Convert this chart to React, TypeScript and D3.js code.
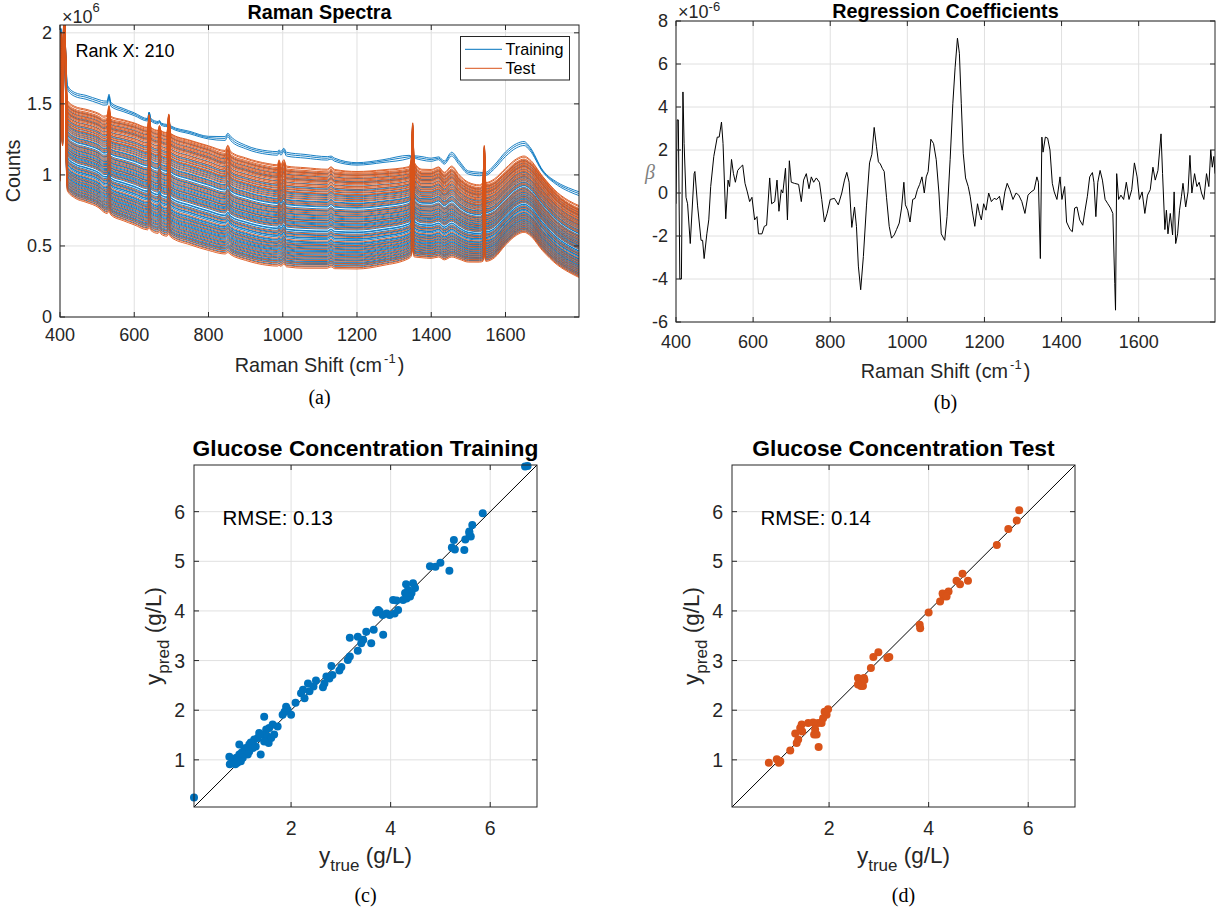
import { useEffect, useRef } from "react";
import * as d3 from "d3";

const BLUE = "#0072BD";
const ORANGE = "#D95319";
const INK = "#262626";
const GRID = "#e0e0e0";
const SANS = '"Liberation Sans", Arial, Helvetica, sans-serif';
const SERIF = '"Liberation Serif", "Times New Roman", serif';

// (a) Raman spectra, counts in units of 1e6, on a shared wavenumber grid
const spectrumShift = [400, 402, 404, 407, 410, 413, 416, 420, 440, 470, 505, 518, 527, 532, 537, 570, 600, 636, 640, 645, 664, 668, 672, 688, 693, 698, 750, 800, 845, 852, 860, 900, 960, 986, 990, 995, 1003, 1010, 1060, 1120, 1130, 1140, 1200, 1270, 1340, 1346, 1350, 1354, 1375, 1400, 1420, 1435, 1455, 1475, 1500, 1530, 1539, 1543, 1547, 1570, 1600, 1630, 1650, 1665, 1700, 1740, 1770, 1800];
// lowest spectrum of the band
const lowCounts = [0.95, 1.5, 1.35, 1.2, 1.85, 2.05, 1.2, 0.88, 0.83, 0.8, 0.76, 0.73, 0.72, 0.735, 0.71, 0.67, 0.64, 0.605, 0.62, 0.6, 0.58, 0.59, 0.575, 0.56, 0.575, 0.555, 0.5, 0.46, 0.435, 0.445, 0.43, 0.39, 0.355, 0.35, 0.355, 0.348, 0.365, 0.345, 0.335, 0.335, 0.345, 0.332, 0.33, 0.355, 0.405, 0.42, 0.46, 0.415, 0.41, 0.405, 0.415, 0.395, 0.415, 0.4, 0.38, 0.38, 0.385, 0.42, 0.385, 0.41, 0.5, 0.57, 0.59, 0.57, 0.46, 0.36, 0.31, 0.27];
// upper edge of the dense band
const highCounts = [1.25, 2.0, 1.8, 1.55, 2.1, 2.1, 1.75, 1.5, 1.46, 1.44, 1.41, 1.39, 1.4, 1.47, 1.39, 1.37, 1.35, 1.32, 1.42, 1.32, 1.3, 1.34, 1.3, 1.285, 1.43, 1.28, 1.23, 1.19, 1.15, 1.19, 1.14, 1.1, 1.06, 1.05, 1.09, 1.05, 1.09, 1.04, 1.03, 1.02, 1.04, 1.02, 1.01, 1.02, 1.04, 1.1, 1.37, 1.08, 1.02, 1.02, 1.04, 1.0, 1.04, 0.98, 0.93, 0.91, 0.93, 1.21, 0.93, 0.95, 1.02, 1.09, 1.11, 1.09, 0.98, 0.86, 0.8, 0.76];
// the few isolated training spectra on top
const topCounts = [1.4, 2.03, 1.95, 1.75, 2.0, 2.02, 1.8, 1.62, 1.57, 1.55, 1.52, 1.51, 1.51, 1.56, 1.5, 1.46, 1.43, 1.39, 1.44, 1.39, 1.37, 1.38, 1.36, 1.35, 1.37, 1.34, 1.3, 1.265, 1.26, 1.285, 1.26, 1.2, 1.16, 1.155, 1.17, 1.155, 1.18, 1.15, 1.135, 1.12, 1.125, 1.11, 1.08, 1.1, 1.13, 1.13, 1.14, 1.13, 1.12, 1.11, 1.12, 1.09, 1.15, 1.09, 1.02, 1.01, 1.01, 1.03, 1.01, 1.06, 1.15, 1.21, 1.225, 1.19, 1.03, 0.94, 0.9, 0.87];
// level of every spectrum at 1200 cm-1
const trainingLevels = [1.086, 1.078, 1.069, 0.998, 0.975, 0.952, 0.944, 0.921, 0.897, 0.889, 0.871, 0.853, 0.846, 0.832, 0.818, 0.802, 0.797, 0.784, 0.771, 0.766, 0.752, 0.74, 0.736, 0.722, 0.709, 0.704, 0.69, 0.683, 0.671, 0.667, 0.655, 0.648, 0.641, 0.629, 0.624, 0.612, 0.598, 0.594, 0.583, 0.571, 0.566, 0.551, 0.547, 0.538, 0.521, 0.516, 0.508, 0.497, 0.492, 0.479, 0.473, 0.462, 0.455, 0.449, 0.438, 0.431, 0.42, 0.414, 0.402, 0.396, 0.385, 0.379, 0.371, 0.364, 0.352];
const testLevels = [1.024, 1.019, 1.011, 1.004, 0.996, 0.99, 0.982, 0.971, 0.964, 0.957, 0.946, 0.938, 0.93, 0.917, 0.909, 0.9, 0.884, 0.876, 0.862, 0.857, 0.84, 0.826, 0.812, 0.791, 0.778, 0.745, 0.729, 0.715, 0.697, 0.676, 0.659, 0.635, 0.618, 0.577, 0.559, 0.528, 0.503, 0.486, 0.468, 0.444, 0.425, 0.408, 0.392, 0.375, 0.36, 0.347, 0.338];

// (b) regression coefficients [shift, beta x 1e-6]
const coefficients: [number, number][] = [
  [400, -0.5], [403, 3.4], [406, 3.4], [410, -4.0], [414, -4.0], [418, 4.7], [421, 2.3], [426, -0.2], [430, -0.5], [437, -2.35], [447, 0.9], [449, 1.0], [456, -0.6], [465, -2.2], [469, -2.2], [473, -3.05], [480, -1.9], [485, -1.25], [490, 0.3], [498, 1.7], [507, 2.6], [512, 2.6], [518, 3.3], [522, 2.3], [529, -1.2], [535, 0.6], [539, 0.3], [544, 1.56], [549, 0.9], [554, 0.5], [560, 1.05], [567, 1.2], [573, 1.3], [579, 0.45], [585, 0.05], [591, -0.4], [597, -0.2], [604, -1.25], [610, -1.1], [614, -1.9], [623, -1.9], [629, -1.55], [635, -1.5], [643, 0.7], [648, -0.5], [656, -0.4], [662, 0.6], [667, -0.85], [673, 0.15], [677, 0], [684, 1.15], [689, -1.25], [694, 1.5], [699, 0.5], [707, 0.45], [718, 0.4], [725, -0.4], [731, 0.6], [738, 0.9], [745, 0.2], [751, 0.75], [757, 0.5], [764, 0.7], [772, 0.5], [778, -0.3], [785, -1.35], [792, -0.95], [800, -0.3], [811, -0.25], [821, -0.55], [830, 0], [837, 0.6], [843, 0.96], [849, 0.5], [856, -1.6], [863, -0.65], [868, -1.55], [873, -3.4], [879, -4.5], [886, -2.95], [894, -0.6], [902, 1.4], [908, 1.8], [914, 3.05], [920, 2.15], [925, 1.45], [930, 1.35], [935, 1.15], [940, 1.0], [946, -0.2], [953, -1.55], [959, -2.1], [966, -1.95], [972, -1.7], [979, -1.4], [985, -0.7], [991, 0.5], [995, -0.55], [1001, -0.8], [1007, -1.35], [1014, -0.3], [1020, -0.25], [1026, 0.15], [1032, 0.4], [1038, 0.75], [1044, 0], [1049, 0.75], [1054, 1.0], [1061, 2.5], [1068, 2.3], [1075, 1.55], [1082, 0], [1088, -1.9], [1097, -2.2], [1103, -1.1], [1111, 1.55], [1118, 4.15], [1124, 5.85], [1130, 7.2], [1135, 6.5], [1140, 4.15], [1145, 1.85], [1151, 0.7], [1158, 0.3], [1163, -0.15], [1168, -0.8], [1175, -1.55], [1182, -0.5], [1187, -0.95], [1192, -1.25], [1198, -0.5], [1204, -0.8], [1211, 0], [1218, -0.4], [1225, -0.25], [1232, -0.3], [1239, -0.15], [1246, -0.8], [1253, 0.05], [1259, 0.45], [1266, 0.15], [1274, -0.3], [1282, 0], [1289, -0.1], [1297, -0.4], [1305, -0.95], [1313, -0.1], [1321, 0.05], [1329, 0.15], [1336, 0.75], [1340, 0.5], [1345, -3.05], [1349, 2.6], [1352, 1.9], [1358, 2.6], [1364, 2.55], [1370, 2.0], [1376, 0.45], [1381, 0.05], [1388, -0.3], [1396, 0.75], [1401, -0.3], [1408, 0.3], [1413, -1.35], [1422, -1.7], [1428, -1.8], [1434, -0.7], [1440, -0.65], [1447, -1.25], [1455, -1.5], [1461, -0.8], [1467, -0.15], [1473, 0.75], [1480, 0.95], [1484, 0.5], [1489, -1.1], [1494, 0.5], [1500, 1.05], [1506, 0.6], [1513, -0.3], [1520, -0.5], [1527, -0.7], [1533, -0.95], [1538, -4.2], [1540, -5.45], [1543, 0.9], [1548, -0.3], [1554, -0.1], [1561, -0.3], [1568, 0.5], [1575, -0.3], [1582, 0.15], [1589, 1.4], [1596, 0.75], [1602, -0.3], [1609, 0.05], [1616, -0.95], [1623, -0.1], [1630, 0.15], [1637, 1.2], [1643, 0.6], [1650, 1.05], [1658, 2.75], [1662, 0.9], [1668, -1.7], [1672, -0.8], [1676, -1.9], [1682, -0.95], [1688, -1.95], [1692, 0.05], [1696, -2.35], [1701, -1.9], [1706, -0.8], [1711, -0.15], [1715, 0.45], [1722, -0.65], [1728, 0.05], [1733, 1.75], [1738, 0], [1745, 0.9], [1751, 0.3], [1757, 0.5], [1763, 0], [1769, -0.3], [1776, 0.9], [1782, 0.3], [1787, 2.0], [1791, 1.2], [1795, 1.7], [1798, 0.9],
];

// (c) and (d) [y_true, y_pred] in g/L
const trainingPoints: [number, number][] = [
  [6.7, 6.91], [6.75, 6.92], [5.85, 5.97], [5.64, 5.73], [5.58, 5.6], [5.5, 5.44], [5.61, 5.5], [5.58, 5.57], [5.48, 5.23], [5.27, 5.43], [5.23, 5.28], [5.29, 5.24], [5.18, 4.81], [5.0, 4.97], [4.9, 4.89], [4.79, 4.9], [4.45, 4.56], [4.31, 4.54], [4.35, 4.42], [4.39, 4.29], [4.32, 4.25], [4.25, 4.22], [4.49, 4.46], [4.42, 4.36], [4.29, 4.36], [4.05, 4.22], [4.12, 4.21], [4.15, 4.02], [4.08, 3.95], [3.98, 3.92], [3.92, 3.95], [3.75, 4.02], [3.78, 3.99], [3.71, 3.97], [3.84, 3.92], [3.85, 3.52], [3.66, 3.62], [3.51, 3.58], [3.61, 3.35], [3.45, 3.42], [3.41, 3.35], [3.34, 3.48], [3.18, 3.46], [3.34, 3.2], [3.18, 3.08], [3.14, 3.01], [3.01, 2.87], [2.97, 2.8], [2.81, 2.89], [2.83, 2.71], [2.77, 2.64], [2.71, 2.68], [2.67, 2.54], [2.64, 2.46], [2.5, 2.6], [2.45, 2.48], [2.37, 2.38], [2.34, 2.54], [2.24, 2.41], [2.2, 2.34], [2.27, 2.24], [2.09, 2.15], [1.9, 2.07], [1.93, 2.01], [1.87, 1.97],
  [2.0, 1.91], [1.83, 1.91], [1.46, 1.87], [1.73, 1.67], [1.63, 1.71], [1.56, 1.64], [1.5, 1.61], [1.44, 1.51], [1.36, 1.54], [1.33, 1.44], [1.26, 1.41], [1.19, 1.35], [1.16, 1.31], [1.09, 1.24], [1.06, 1.21], [1.01, 1.15], [0.96, 1.11], [0.9, 1.04], [0.86, 1.01], [0.81, 0.94], [0.77, 0.91], [0.96, 1.31], [0.76, 1.06], [1.39, 1.11], [1.53, 1.47], [1.6, 1.44], [1.66, 1.51], [1.55, 1.34], [1.46, 1.37], [1.29, 1.27], [1.23, 1.24], [1.16, 1.17], [1.13, 1.11], [1.03, 1.04], [0.99, 0.97], [0.92, 0.94], [0.88, 0.91], [0.05, 0.24],
];
const testPoints: [number, number][] = [
  [5.82, 6.03], [5.77, 5.82], [5.6, 5.65], [5.37, 5.33], [4.68, 4.75], [4.56, 4.61], [4.63, 4.54], [4.79, 4.61], [4.4, 4.39], [4.35, 4.34], [4.3, 4.29], [4.23, 4.19], [4.28, 4.35], [4.36, 4.29], [4.0, 3.97], [3.82, 3.72], [3.83, 3.65], [3.21, 3.07], [3.17, 3.05], [2.99, 3.17], [2.89, 3.07], [2.84, 2.85], [2.58, 2.65], [2.64, 2.63], [2.7, 2.65], [2.61, 2.55], [2.68, 2.49], [2.71, 2.61], [2.64, 2.49], [2.58, 2.52], [1.98, 2.02], [1.95, 1.91], [1.91, 1.97], [1.88, 1.84], [1.85, 1.74], [1.78, 1.74], [1.68, 1.75], [1.58, 1.74], [1.72, 1.61], [1.7, 1.51], [1.75, 1.51], [1.79, 1.26], [1.45, 1.71], [1.42, 1.64], [1.46, 1.57], [1.32, 1.53], [1.38, 1.41], [1.35, 1.34], [1.22, 1.19], [0.95, 1.01], [0.99, 0.94], [1.02, 0.97], [0.79, 0.94],
];

const shiftTicks = [400, 600, 800, 1000, 1200, 1400, 1600];
const countTicks = [0, 0.5, 1, 1.5, 2];
const betaTicks = [-6, -4, -2, 0, 2, 4, 6, 8];
const trueTicks = [2, 4, 6];
const predTicks = [1, 2, 3, 4, 5, 6];
const glucoseDomain = [0.05, 6.94];

type Box = { l: number; t: number; r: number; b: number };

function drawGrid(svg: any, box: Box, x: any, y: any, xt: number[], yt: number[]) {
  const g = svg.append("g");
  g.selectAll("line.gx").data(xt).enter().append("line")
    .attr("x1", (d: number) => x(d)).attr("x2", (d: number) => x(d))
    .attr("y1", box.t).attr("y2", box.b)
    .attr("stroke", GRID).attr("stroke-width", 1);
  g.selectAll("line.gy").data(yt).enter().append("line")
    .attr("y1", (d: number) => y(d)).attr("y2", (d: number) => y(d))
    .attr("x1", box.l).attr("x2", box.r)
    .attr("stroke", GRID).attr("stroke-width", 1);
}

function drawFrame(svg: any, box: Box, x: any, y: any, xt: number[], yt: number[], fs: number, xOff: number, yGap: number) {
  const g = svg.append("g");
  const tl = 5;
  g.append("rect").attr("x", box.l).attr("y", box.t)
    .attr("width", box.r - box.l).attr("height", box.b - box.t)
    .attr("fill", "none").attr("stroke", INK).attr("stroke-width", 1);
  xt.forEach((d) => {
    g.append("line").attr("x1", x(d)).attr("x2", x(d)).attr("y1", box.b).attr("y2", box.b - tl).attr("stroke", INK);
    g.append("line").attr("x1", x(d)).attr("x2", x(d)).attr("y1", box.t).attr("y2", box.t + tl).attr("stroke", INK);
    g.append("text").attr("x", x(d)).attr("y", box.b + xOff)
      .attr("text-anchor", "middle").attr("font-size", fs).attr("fill", INK).text(String(d));
  });
  yt.forEach((d) => {
    g.append("line").attr("y1", y(d)).attr("y2", y(d)).attr("x1", box.l).attr("x2", box.l + tl).attr("stroke", INK);
    g.append("line").attr("y1", y(d)).attr("y2", y(d)).attr("x1", box.r).attr("x2", box.r - tl).attr("stroke", INK);
    g.append("text").attr("x", box.l - yGap).attr("y", y(d)).attr("dy", "0.36em")
      .attr("text-anchor", "end").attr("font-size", fs).attr("fill", INK).text(String(d));
  });
}

function clip(svg: any, id: string, box: Box) {
  svg.append("defs").append("clipPath").attr("id", id).append("rect")
    .attr("x", box.l).attr("y", box.t).attr("width", box.r - box.l).attr("height", box.b - box.t);
}

function shiftLabel(svg: any, cx: number, y: number) {
  const t = svg.append("text").attr("x", cx).attr("y", y).attr("text-anchor", "middle")
    .attr("font-size", 19.8).attr("fill", INK);
  t.append("tspan").text("Raman Shift (cm");
  t.append("tspan").attr("font-size", 13).attr("dy", -9).attr("dx", 2).text("-1");
  t.append("tspan").attr("dy", 9).attr("dx", 2).text(")");
}

function caption(svg: any, cx: number, y: number, s: string) {
  svg.append("text").attr("x", cx).attr("y", y).attr("text-anchor", "middle")
    .attr("font-family", SERIF).attr("font-size", 20).attr("fill", "#000").text(s);
}

function spectrumFor(level: number) {
  const i1200 = spectrumShift.indexOf(1200);
  const lo = lowCounts[i1200], hi = highCounts[i1200], tp = topCounts[i1200];
  if (level <= hi) {
    const w = (level - lo) / (hi - lo);
    return spectrumShift.map((s, i) => [s, lowCounts[i] + w * (highCounts[i] - lowCounts[i])]);
  }
  const w = (level - hi) / (tp - hi);
  return spectrumShift.map((s, i) => [s, highCounts[i] + w * (topCounts[i] - highCounts[i])]);
}

function drawSpectra(svg: any) {
  const box: Box = { l: 60, t: 25, r: 579, b: 317 };
  const x = d3.scaleLinear().domain([400, 1798]).range([box.l, box.r]);
  const y = d3.scaleLinear().domain([0, 2.055]).range([box.b, box.t]);
  drawGrid(svg, box, x, y, shiftTicks, countTicks);
  clip(svg, "clipA", box);
  const line = d3.line<number[]>().x((d) => x(d[0])).y((d) => y(d[1])).curve(d3.curveMonotoneX);
  const g = svg.append("g").attr("clip-path", "url(#clipA)");
  trainingLevels.forEach((lv) => {
    g.append("path").attr("d", line(spectrumFor(lv) as any)).attr("fill", "none")
      .attr("stroke", BLUE).attr("stroke-width", 0.9);
  });
  testLevels.forEach((lv) => {
    g.append("path").attr("d", line(spectrumFor(lv) as any)).attr("fill", "none")
      .attr("stroke", ORANGE).attr("stroke-width", 0.9);
  });
  drawFrame(svg, box, x, y, shiftTicks, countTicks, 18, 24, 8);

  // exponent
  const ex = svg.append("text").attr("x", box.l + 2).attr("y", 23).attr("font-size", 18).attr("fill", INK);
  ex.append("tspan").text("\u00d710");
  ex.append("tspan").attr("font-size", 13).attr("dy", -11).text("6");

  svg.append("text").attr("x", (box.l + box.r) / 2).attr("y", 19).attr("text-anchor", "middle")
    .attr("font-size", 19.8).attr("font-weight", "bold").attr("fill", "#000").text("Raman Spectra");
  svg.append("text").attr("transform", `translate(19.5,${(box.t + box.b) / 2}) rotate(-90)`)
    .attr("text-anchor", "middle").attr("font-size", 19.8).attr("fill", INK).text("Counts");
  svg.append("text").attr("x", 75.5).attr("y", 56.5).attr("font-size", 18).attr("fill", "#000").text("Rank X: 210");

  // legend
  const lg = svg.append("g");
  lg.append("rect").attr("x", 460.5).attr("y", 36.5).attr("width", 109).attr("height", 43.5)
    .attr("fill", "#fff").attr("stroke", INK).attr("stroke-width", 1);
  [["Training", BLUE, 49.3], ["Test", ORANGE, 68.3]].forEach(([name, c, yy]: any) => {
    lg.append("line").attr("x1", 465).attr("x2", 502).attr("y1", yy).attr("y2", yy).attr("stroke", c).attr("stroke-width", 1);
    lg.append("text").attr("x", 505.5).attr("y", yy + 5.8).attr("font-size", 16.2).attr("fill", "#000").text(name);
  });

  shiftLabel(svg, (box.l + box.r) / 2, 371.5);
  caption(svg, (box.l + box.r) / 2, 404, "(a)");
}

function drawCoefficients(svg: any) {
  const box: Box = { l: 676, t: 21, r: 1215, b: 322 };
  const x = d3.scaleLinear().domain([400, 1798]).range([box.l, box.r]);
  const y = d3.scaleLinear().domain([-6, 8]).range([box.b, box.t]);
  drawGrid(svg, box, x, y, shiftTicks, betaTicks);
  clip(svg, "clipB", box);
  const line = d3.line<[number, number]>().x((d) => x(d[0])).y((d) => y(d[1]));
  svg.append("g").attr("clip-path", "url(#clipB)").append("path")
    .attr("d", line(coefficients)).attr("fill", "none").attr("stroke", "#000").attr("stroke-width", 1);
  drawFrame(svg, box, x, y, shiftTicks, betaTicks, 18, 26, 8);

  const ex = svg.append("text").attr("x", box.l + 2).attr("y", 18).attr("font-size", 18).attr("fill", INK);
  ex.append("tspan").text("\u00d710");
  ex.append("tspan").attr("font-size", 13).attr("dy", -7.5).text("-6");

  svg.append("text").attr("x", (box.l + box.r) / 2).attr("y", 18).attr("text-anchor", "middle")
    .attr("font-size", 19.8).attr("font-weight", "bold").attr("fill", "#000").text("Regression Coefficients");
  svg.append("text").attr("x", 650).attr("y", 179).attr("text-anchor", "middle")
    .attr("font-family", SERIF).attr("font-style", "italic").attr("font-size", 20).attr("fill", "#7f7f7f").text("\u03b2");

  shiftLabel(svg, (box.l + box.r) / 2, 378);
  caption(svg, (box.l + box.r) / 2, 409, "(b)");
}

function drawParity(svg: any, box: Box, pts: [number, number][], color: string, title: string, rmse: string, cap: string, id: string) {
  const x = d3.scaleLinear().domain(glucoseDomain).range([box.l, box.r]);
  const y = d3.scaleLinear().domain(glucoseDomain).range([box.b, box.t]);
  drawGrid(svg, box, x, y, trueTicks, predTicks);
  clip(svg, id, box);
  const g = svg.append("g").attr("clip-path", `url(#${id})`);
  g.append("line").attr("x1", x(glucoseDomain[0])).attr("y1", y(glucoseDomain[0]))
    .attr("x2", x(glucoseDomain[1])).attr("y2", y(glucoseDomain[1]))
    .attr("stroke", "#000").attr("stroke-width", 1);
  svg.append("g").selectAll("circle").data(pts).enter().append("circle")
    .attr("cx", (d: [number, number]) => x(d[0])).attr("cy", (d: [number, number]) => y(d[1]))
    .attr("r", 4).attr("fill", color);
  drawFrame(svg, box, x, y, trueTicks, predTicks, 19.5, 28, 9);

  const cx = (box.l + box.r) / 2;
  svg.append("text").attr("x", cx).attr("y", 456).attr("text-anchor", "middle")
    .attr("font-size", 22.8).attr("font-weight", "bold").attr("fill", "#000").text(title);
  svg.append("text").attr("x", box.l + 28.5).attr("y", 524.5).attr("font-size", 20.5).attr("fill", "#000").text(rmse);

  const xl = svg.append("text").attr("x", cx).attr("y", 863).attr("text-anchor", "middle")
    .attr("font-size", 22.5).attr("fill", INK);
  xl.append("tspan").text("y");
  xl.append("tspan").attr("font-size", 17).attr("dy", 8).text("true");
  xl.append("tspan").attr("dy", -8).text(" (g/L)");

  const yl = svg.append("text").attr("transform", `translate(${box.l - 33},${(box.t + box.b) / 2}) rotate(-90)`)
    .attr("text-anchor", "middle").attr("font-size", 22.5).attr("fill", INK);
  yl.append("tspan").text("y");
  yl.append("tspan").attr("font-size", 17).attr("dy", 8).text("pred");
  yl.append("tspan").attr("dy", -8).text(" (g/L)");

  caption(svg, cx, 902, cap);
}

export default function App() {
  const ref = useRef<SVGSVGElement>(null);

  useEffect(() => {
    const svg = d3.select(ref.current);
    svg.selectAll("*").remove();
    svg.attr("font-family", SANS);
    drawSpectra(svg);
    drawCoefficients(svg);
    drawParity(svg, { l: 194, t: 465, r: 537, b: 807 }, trainingPoints, BLUE,
      "Glucose Concentration Training", "RMSE: 0.13", "(c)", "clipC");
    drawParity(svg, { l: 732, t: 465, r: 1075, b: 807 }, testPoints, ORANGE,
      "Glucose Concentration Test", "RMSE: 0.14", "(d)", "clipD");
  }, []);

  return (
    <svg ref={ref} width={1225} height={913}
      style={{ position: "absolute", left: 0, top: 0, background: "#fff" }} />
  );
}
